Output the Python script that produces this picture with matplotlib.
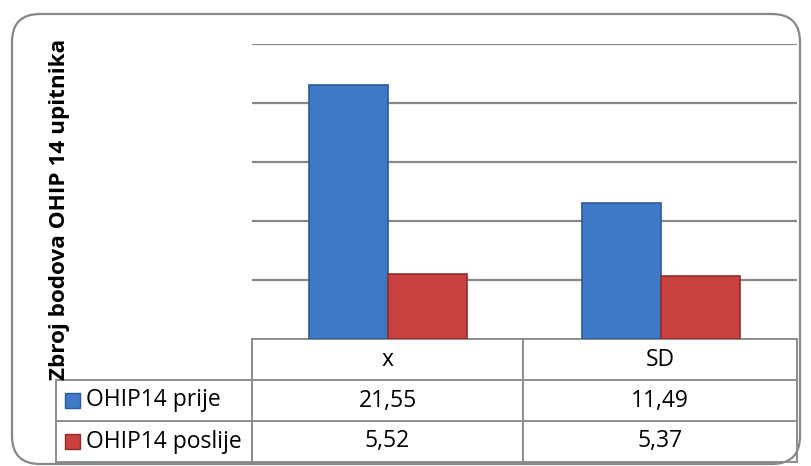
import numpy as np
import matplotlib.pyplot as plt
from matplotlib.patches import FancyBboxPatch, Rectangle

categories = ["x", "SD"]
series_names = ["OHIP14 prije", "OHIP14 poslije"]
prije = [21.55, 11.49]
poslije = [5.52, 5.37]
value_labels = [["21,55", "11,49"], ["5,52", "5,37"]]
ylabel = "Zbroj bodova OHIP 14 upitnika"

colors = ["#4078c8", "#c8413e"]
edges = ["#2b5a9a", "#8f2d2b"]

W, H = 811, 466
plt.rcParams['font.family'] = ['Open Sans', 'DejaVu Sans']
fig = plt.figure(figsize=(W / 100, H / 100), dpi=100)

# pixel-space overlay for the frame and the data table
bg = fig.add_axes([0, 0, 1, 1])
bg.set_xlim(0, W)
bg.set_ylim(H, 0)
bg.axis("off")

grid_col = "#878787"
bg.add_patch(FancyBboxPatch((12, 14), 788, 450, boxstyle="round,pad=0,rounding_size=28",
                            fill=False, edgecolor=grid_col, lw=1.6))

# plot area
L, R, T, B = 252, 797, 44, 339
ax = fig.add_axes([L / W, 1 - B / H, (R - L) / W, (B - T) / H])
ax.set_ylim(0, 25)
ax.set_xlim(-0.5, 1.5)
ax.set_yticks([5, 10, 15, 20, 25])
ax.yaxis.grid(True, color=grid_col, lw=1.6)
ax.set_axisbelow(True)
for s in ax.spines.values():
    s.set_visible(False)
ax.tick_params(left=False, bottom=False, labelleft=False, labelbottom=False)
ax.patch.set_alpha(0)

x = np.arange(len(categories))
w = 0.29
ax.bar(x - w / 2, prije, w, color=colors[0], edgecolor=edges[0], lw=1.2)
ax.bar(x + w / 2, poslije, w, color=colors[1], edgecolor=edges[1], lw=1.2)

# data table
tc = "#8c8c8c"
col_x = [252, 523, 797]
rows_y = [339, 380, 421, 462]
lw = 1.4
bg.plot([col_x[0], col_x[-1]], [rows_y[0]] * 2, color=tc, lw=lw)
for yy in rows_y[1:]:
    bg.plot([56, col_x[-1]], [yy] * 2, color=tc, lw=lw)
for xx in col_x:
    bg.plot([xx, xx], [rows_y[0], rows_y[-1]], color=tc, lw=lw)
bg.plot([56, 56], [rows_y[1], rows_y[-1]], color=tc, lw=lw)

fs = 16.5
for j, c in enumerate(categories):
    bg.text((col_x[j] + col_x[j + 1]) / 2, (rows_y[0] + rows_y[1]) / 2, c,
            ha="center", va="center", fontsize=fs)
for i, name in enumerate(series_names):
    cy = (rows_y[i + 1] + rows_y[i + 2]) / 2
    bg.add_patch(Rectangle((65, cy - 8), 15, 15, facecolor=colors[i], edgecolor=edges[i], lw=1))
    bg.text(86, cy, name, ha="left", va="center", fontsize=fs)
    for j in range(len(categories)):
        bg.text((col_x[j] + col_x[j + 1]) / 2, cy, value_labels[i][j],
                ha="center", va="center", fontsize=fs)

bg.text(60, 209, ylabel, rotation=90, ha="center", va="center",
        fontsize=16.2, fontweight="bold")

fig.savefig("out.png", dpi=100)
